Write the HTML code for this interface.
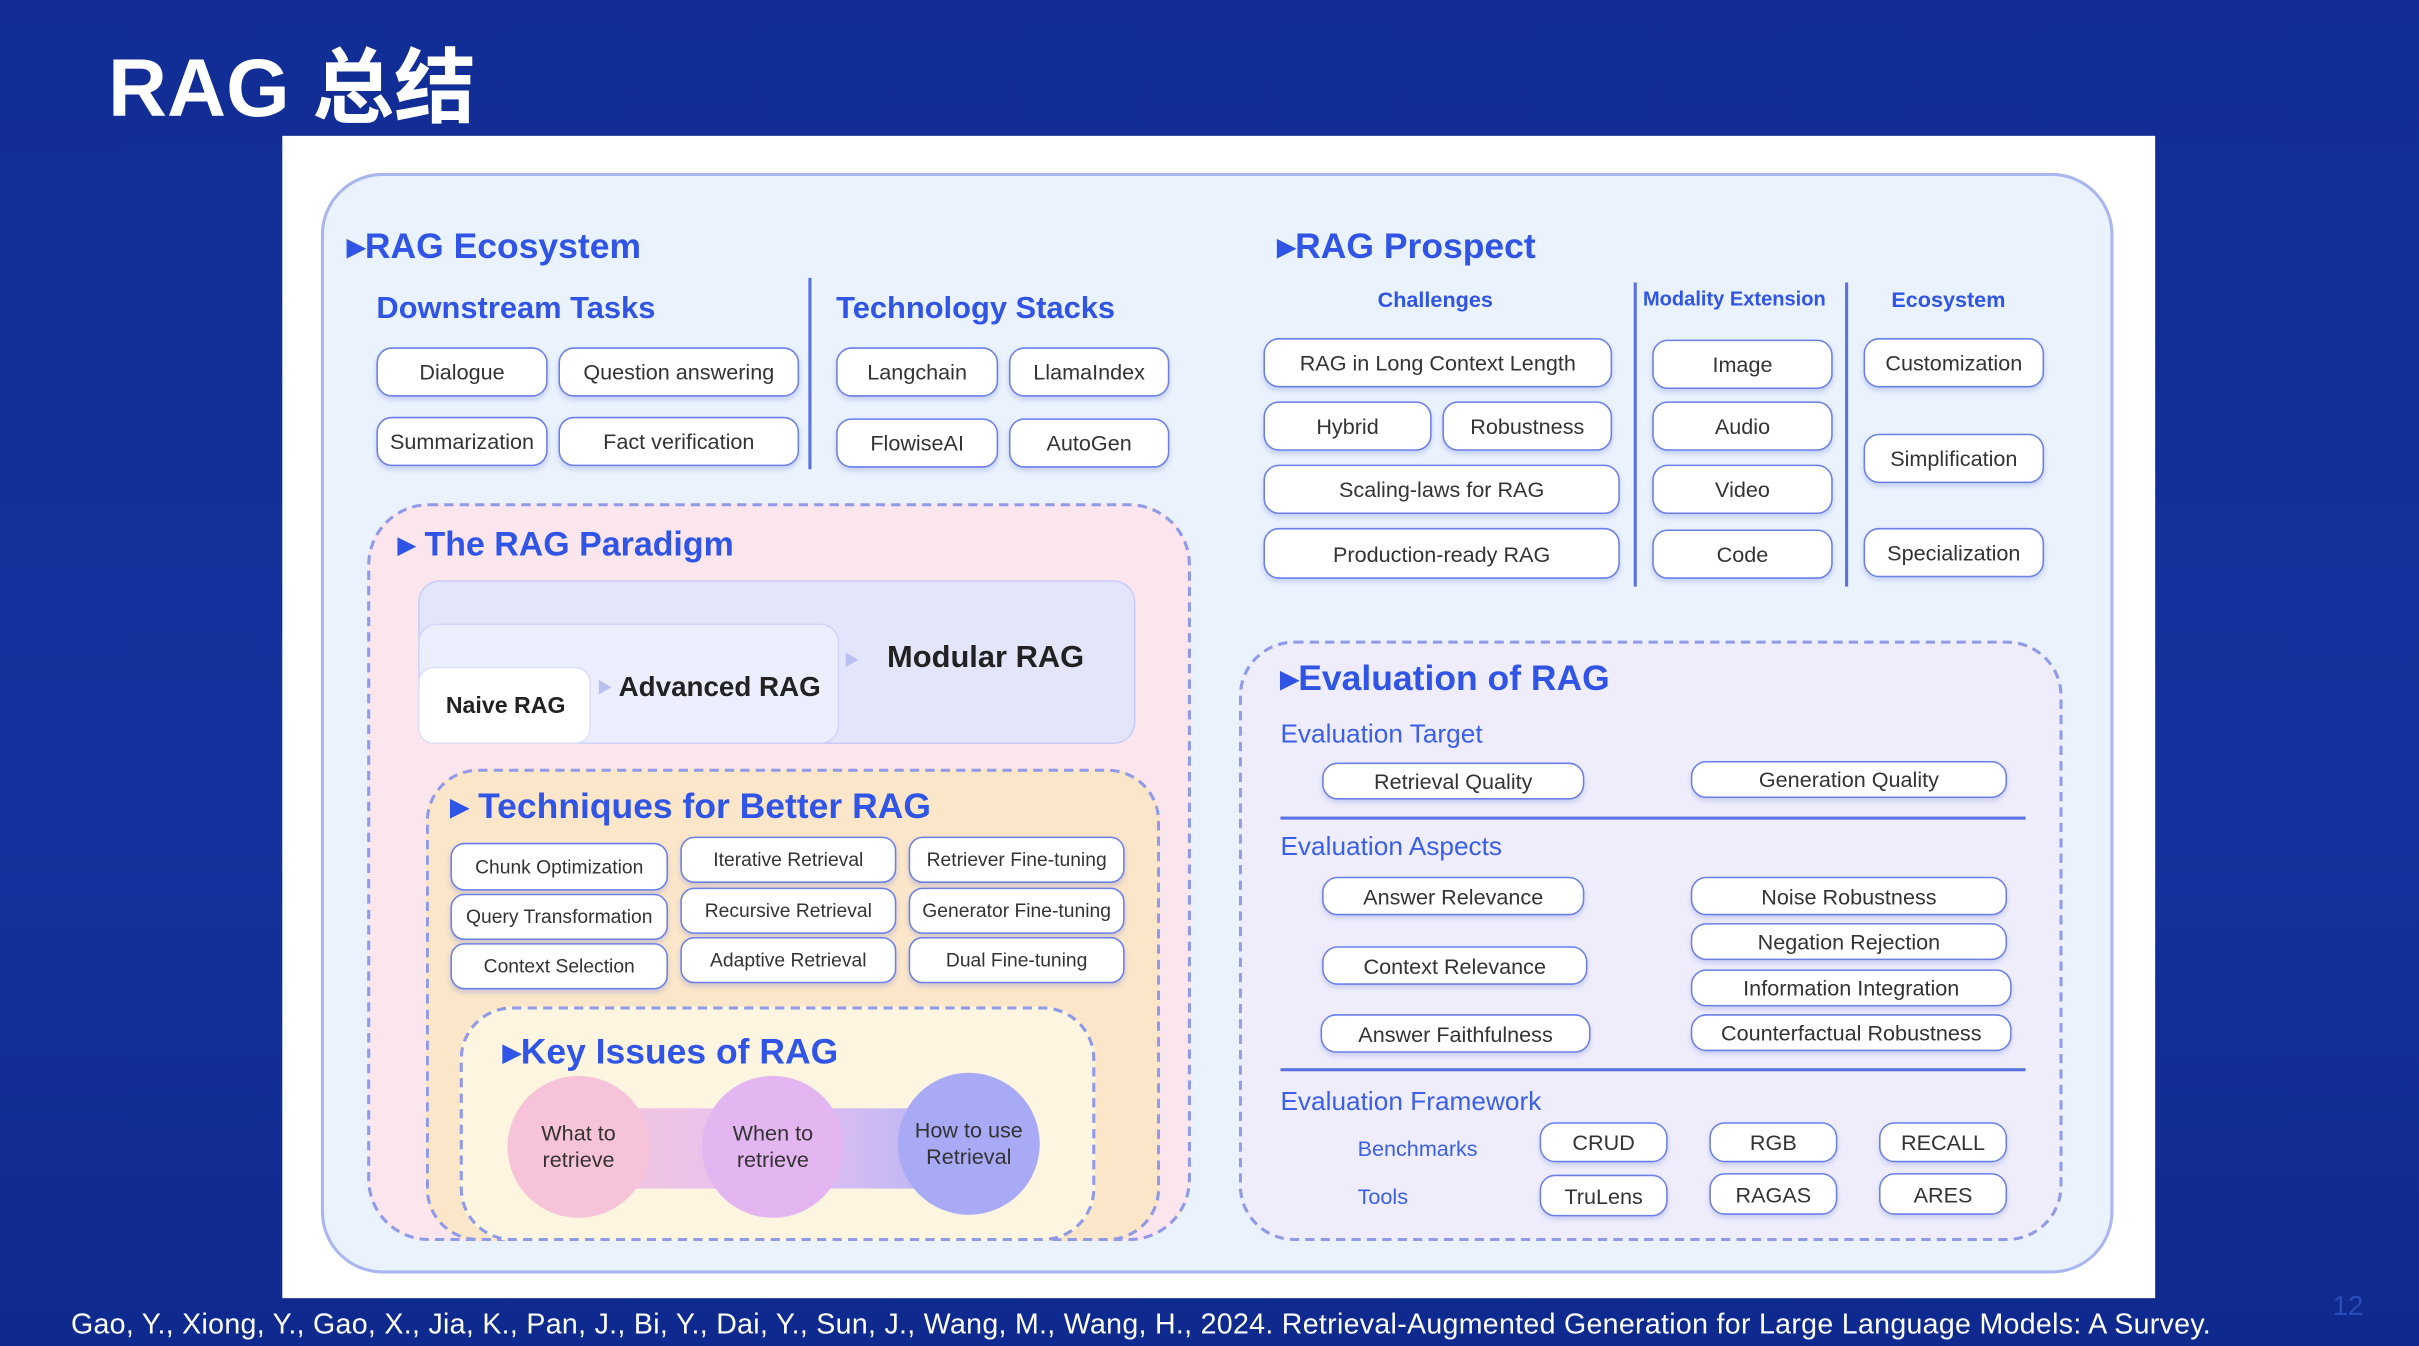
<!DOCTYPE html>
<html><head><meta charset="utf-8"><style>
html,body{margin:0;padding:0;width:2419px;height:1346px;overflow:hidden;background:#13309a;}
#s{position:absolute;left:0;top:0;width:1568px;height:872px;transform:scale(1.5427,1.5436);transform-origin:0 0;font-family:"Liberation Sans","Noto Sans CJK SC",sans-serif;background:linear-gradient(180deg,#112d95 0%,#14329e 60%,#0f2a8e 100%);}
.a{position:absolute;box-sizing:border-box;}
.p{position:absolute;box-sizing:border-box;background:#fff;border:1.6px solid #6a7fe8;border-radius:10px;color:#333;font-size:14px;display:flex;align-items:center;justify-content:center;white-space:nowrap;box-shadow:0 2px 3px rgba(90,110,220,.25);}
.sm{font-size:12.5px;border-radius:9px;}
.h{position:absolute;color:#2f54e6;font-weight:bold;white-space:nowrap;}
.t{position:absolute;color:#3a5fe8;white-space:nowrap;}
.dash{position:absolute;box-sizing:border-box;border:2px dashed #8f9ae8;}
.c{position:absolute;border-radius:50%;display:flex;align-items:center;justify-content:center;text-align:center;font-size:14px;color:#333;line-height:17px;}
</style></head><body><div id="s">
<div class="a" style="left:70px;top:15px;color:#fff;font-size:53px;font-weight:bold;">RAG 总结</div>
<div class="a" style="left:183px;top:88px;width:1214px;height:753px;background:#fff;"></div>
<div class="a" style="left:208px;top:112px;width:1162px;height:713px;background:#eaf2fd;border:2px solid #aab6f0;border-radius:40px;"></div>

<div class="h" style="left:225px;top:146px;font-size:23px;">▸RAG Ecosystem</div>
<div class="h" style="left:244px;top:189px;font-size:20px;">Downstream Tasks</div>
<div class="h" style="left:542px;top:189px;font-size:20px;">Technology Stacks</div>
<div class="a" style="left:524px;top:180px;width:2px;height:124px;background:#5a72e0;"></div>
<div class="p" style="left:244px;top:225px;width:111px;height:32px;">Dialogue</div>
<div class="p" style="left:362px;top:225px;width:156px;height:32px;">Question answering</div>
<div class="p" style="left:244px;top:270px;width:111px;height:32px;">Summarization</div>
<div class="p" style="left:362px;top:270px;width:156px;height:32px;">Fact verification</div>
<div class="p" style="left:542px;top:225px;width:105px;height:32px;">Langchain</div>
<div class="p" style="left:654px;top:225px;width:104px;height:32px;">LlamaIndex</div>
<div class="p" style="left:542px;top:271px;width:105px;height:32px;">FlowiseAI</div>
<div class="p" style="left:654px;top:271px;width:104px;height:32px;">AutoGen</div>

<div class="dash" style="left:238px;top:326px;width:534px;height:478px;background:#fbe6ee;border-radius:40px;"></div>
<div class="h" style="left:258px;top:340px;font-size:22px;">▸ The RAG Paradigm</div>
<div class="a" style="left:271px;top:376px;width:465px;height:106px;background:#e3e5fb;border:1.5px solid #c9cdf5;border-radius:14px;"></div>
<div class="a" style="left:271px;top:404px;width:273px;height:78px;background:#eceefd;border:1.5px solid #d2d5f7;border-radius:12px;"></div>
<div class="a" style="left:271px;top:432px;width:112px;height:50px;background:#fff;border:1.5px solid #dcdff8;border-radius:10px;"></div>
<div class="a" style="left:289px;top:449px;font-size:15px;font-weight:bold;color:#222;">Naive RAG</div>
<div class="a" style="left:387px;top:437px;font-size:10px;color:#b9bff3;">▶</div>
<div class="a" style="left:401px;top:435px;font-size:18px;font-weight:bold;color:#222;">Advanced RAG</div>
<div class="a" style="left:547px;top:419px;font-size:10px;color:#b9bff3;">▶</div>
<div class="a" style="left:575px;top:415px;font-size:20px;font-weight:bold;color:#222;">Modular RAG</div>

<div class="dash" style="left:276px;top:498px;width:476px;height:306px;background:#fbe6c9;border-radius:34px;"></div>
<div class="h" style="left:292px;top:509px;font-size:23px;">▸ Techniques for Better RAG</div>
<div class="p sm" style="left:292px;top:546px;width:141px;height:31px;">Chunk Optimization</div>
<div class="p sm" style="left:292px;top:579px;width:141px;height:30px;">Query Transformation</div>
<div class="p sm" style="left:292px;top:611px;width:141px;height:30px;">Context Selection</div>
<div class="p sm" style="left:441px;top:542px;width:140px;height:30px;">Iterative Retrieval</div>
<div class="p sm" style="left:441px;top:575px;width:140px;height:30px;">Recursive Retrieval</div>
<div class="p sm" style="left:441px;top:607px;width:140px;height:30px;">Adaptive Retrieval</div>
<div class="p sm" style="left:589px;top:542px;width:140px;height:30px;">Retriever Fine-tuning</div>
<div class="p sm" style="left:589px;top:575px;width:140px;height:30px;">Generator Fine-tuning</div>
<div class="p sm" style="left:589px;top:607px;width:140px;height:30px;">Dual Fine-tuning</div>

<div class="dash" style="left:298px;top:652px;width:412px;height:152px;background:#fdf5e0;border-radius:34px;"></div>
<div class="h" style="left:326px;top:668px;font-size:23px;">▸Key Issues of RAG</div>
<div class="a" style="left:374px;top:718px;width:254px;height:52px;background:linear-gradient(90deg,#f3c6dc,#e7c0f0 50%,#b4b5f5);"></div>
<div class="c" style="left:329px;top:697px;width:92px;height:92px;background:#f6c3d9;">What to<br>retrieve</div>
<div class="c" style="left:455px;top:697px;width:92px;height:92px;background:#e3b6f1;">When to<br>retrieve</div>
<div class="c" style="left:582px;top:695px;width:92px;height:92px;background:#a9aaf5;">How to use<br>Retrieval</div>

<div class="h" style="left:828px;top:146px;font-size:23px;">▸RAG Prospect</div>
<div class="h" style="left:893px;top:186px;font-size:14px;">Challenges</div>
<div class="h" style="left:1065px;top:186px;font-size:13px;">Modality Extension</div>
<div class="h" style="left:1226px;top:186px;font-size:14px;">Ecosystem</div>
<div class="a" style="left:1059px;top:183px;width:2px;height:197px;background:#5a72e0;"></div>
<div class="a" style="left:1196px;top:183px;width:2px;height:197px;background:#5a72e0;"></div>
<div class="p" style="left:819px;top:219px;width:226px;height:32px;">RAG in Long Context Length</div>
<div class="p" style="left:819px;top:260px;width:109px;height:32px;">Hybrid</div>
<div class="p" style="left:935px;top:260px;width:110px;height:32px;">Robustness</div>
<div class="p" style="left:819px;top:301px;width:231px;height:32px;">Scaling-laws for RAG</div>
<div class="p" style="left:819px;top:342px;width:231px;height:33px;">Production-ready RAG</div>
<div class="p" style="left:1071px;top:220px;width:117px;height:32px;">Image</div>
<div class="p" style="left:1071px;top:260px;width:117px;height:32px;">Audio</div>
<div class="p" style="left:1071px;top:301px;width:117px;height:32px;">Video</div>
<div class="p" style="left:1071px;top:343px;width:117px;height:32px;">Code</div>
<div class="p" style="left:1208px;top:219px;width:117px;height:32px;">Customization</div>
<div class="p" style="left:1208px;top:281px;width:117px;height:32px;">Simplification</div>
<div class="p" style="left:1208px;top:342px;width:117px;height:32px;">Specialization</div>

<div class="dash" style="left:803px;top:415px;width:534px;height:389px;background:#efedfb;border-radius:36px;"></div>
<div class="h" style="left:830px;top:426px;font-size:23px;">▸Evaluation of RAG</div>
<div class="t" style="left:830px;top:466px;font-size:17px;">Evaluation Target</div>
<div class="p" style="left:857px;top:494px;width:170px;height:24px;">Retrieval Quality</div>
<div class="p" style="left:1096px;top:493px;width:205px;height:24px;">Generation Quality</div>
<div class="a" style="left:830px;top:529px;width:483px;height:2px;background:#5a72e0;"></div>
<div class="t" style="left:830px;top:539px;font-size:17px;">Evaluation Aspects</div>
<div class="p" style="left:857px;top:568px;width:170px;height:25px;">Answer Relevance</div>
<div class="p" style="left:857px;top:613px;width:172px;height:25px;">Context Relevance</div>
<div class="p" style="left:856px;top:657px;width:175px;height:25px;">Answer Faithfulness</div>
<div class="p" style="left:1096px;top:568px;width:205px;height:25px;">Noise Robustness</div>
<div class="p" style="left:1096px;top:598px;width:205px;height:24px;">Negation Rejection</div>
<div class="p" style="left:1096px;top:628px;width:208px;height:24px;">Information Integration</div>
<div class="p" style="left:1096px;top:657px;width:208px;height:24px;">Counterfactual Robustness</div>
<div class="a" style="left:830px;top:692px;width:483px;height:2px;background:#5a72e0;"></div>
<div class="t" style="left:830px;top:704px;font-size:17px;">Evaluation Framework</div>
<div class="t" style="left:880px;top:736px;font-size:14px;">Benchmarks</div>
<div class="t" style="left:880px;top:767px;font-size:14px;">Tools</div>
<div class="p" style="left:998px;top:727px;width:83px;height:26px;">CRUD</div>
<div class="p" style="left:1108px;top:727px;width:83px;height:26px;">RGB</div>
<div class="p" style="left:1218px;top:727px;width:83px;height:26px;">RECALL</div>
<div class="p" style="left:998px;top:761px;width:83px;height:27px;">TruLens</div>
<div class="p" style="left:1108px;top:760px;width:83px;height:27px;">RAGAS</div>
<div class="p" style="left:1218px;top:760px;width:83px;height:27px;">ARES</div>

<div class="a" style="left:46px;top:847px;color:#fff;font-size:18.5px;white-space:nowrap;letter-spacing:0.2px;">Gao, Y., Xiong, Y., Gao, X., Jia, K., Pan, J., Bi, Y., Dai, Y., Sun, J., Wang, M., Wang, H., 2024. Retrieval-Augmented Generation for Large Language Models: A Survey.</div>
<div class="a" style="left:1512px;top:836px;color:#2a4cb8;font-size:18px;">12</div>
</div></body></html>
